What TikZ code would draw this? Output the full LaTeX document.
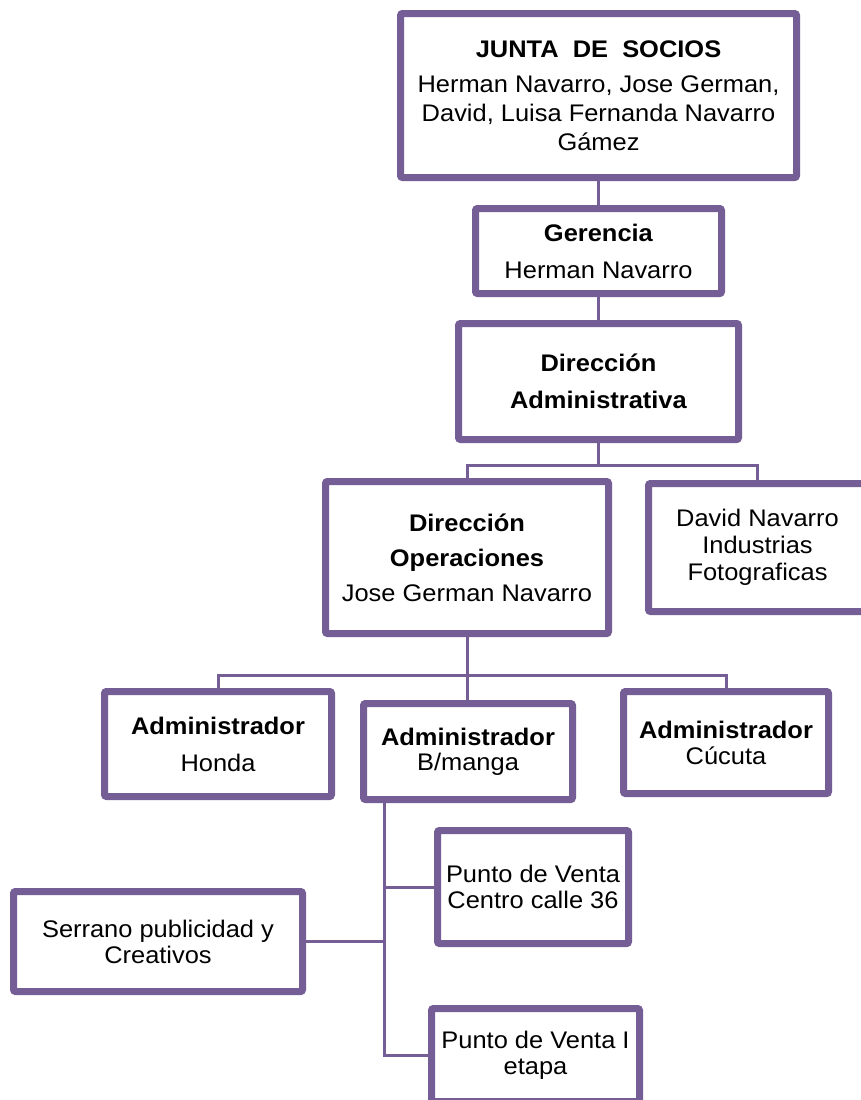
\documentclass[tikz,border=0pt]{standalone}
\usepackage{fontspec}
\setmainfont[FakeStretch=1.06]{Liberation Sans}
\usetikzlibrary{shadows}
\definecolor{pur}{RGB}{117,94,150}
\begin{document}
\begin{tikzpicture}[x=1pt,y=-1pt,
  box/.style={draw=pur, line width=7pt, fill=white, rounded corners=2pt,
    align=center, inner sep=0pt, font=\fontsize{24}{29}\selectfont,
    drop shadow={shadow xshift=2pt, shadow yshift=-3pt, fill=black, opacity=0.3}},
  link/.style={draw=pur, line width=3pt}]
\useasboundingbox[fill=white] (0,0) rectangle (860,1100);

\node[box, minimum width=396pt, minimum height=164pt] (junta) at (598.5,95.5)
  {\textbf{JUNTA\ \ DE\ \ SOCIOS}\\[6pt]Herman Navarro, Jose German,\\David, Luisa Fernanda Navarro\\Gámez};
\node[box, minimum width=246pt, minimum height=85pt] (gerencia) at (598.5,251)
  {\textbf{Gerencia}\\[8pt]Herman Navarro};
\node[box, minimum width=280pt, minimum height=116pt] (diradm) at (598.5,381.5)
  {\textbf{Dirección}\\[8pt]\textbf{Administrativa}};
\node[box, minimum width=283pt, minimum height=152pt] (dirops) at (467,557.5)
  {\textbf{Dirección}\\[6pt]\textbf{Operaciones}\\[6pt]Jose German Navarro};
\node[box, minimum width=218pt, minimum height=128pt, font=\fontsize{24}{27}\selectfont] (david) at (757.5,547.5)
  {David Navarro\\Industrias\\Fotograficas};
\node[box, minimum width=227pt, minimum height=105pt] (honda) at (218,744)
  {\textbf{Administrador}\\[8pt]Honda};
\node[box, minimum width=209pt, minimum height=96pt, font=\fontsize{24}{25}\selectfont] (bmanga) at (468,751.5)
  {\textbf{Administrador}\\B/manga};
\node[box, minimum width=205pt, minimum height=102pt, font=\fontsize{24}{26}\selectfont] (cucuta) at (726,742.5)
  {\textbf{Administrador}\\Cúcuta};
\node[box, minimum width=191pt, minimum height=113pt, font=\fontsize{24}{26}\selectfont] (centro) at (533,887)
  {Punto de Venta\\Centro calle 36};
\node[box, minimum width=289pt, minimum height=100pt, font=\fontsize{24}{26}\selectfont] (serrano) at (158,941.5)
  {Serrano publicidad y\\Creativos};
\node[box, minimum width=208pt, minimum height=93pt, font=\fontsize{24}{26}\selectfont] (etapa) at (535.5,1055)
  {Punto de Venta I\\etapa};

\draw[link] (junta.south) -- (gerencia.north);
\draw[link] (gerencia.south) -- (diradm.north);
\draw[link] (diradm.south) -- ++(0,22) coordinate (j1);
\draw[link] (dirops.north) |- (j1) -| (david.north);
\draw[link] (dirops.south) -- ++(0,38) coordinate (j2);
\draw[link] (honda.north) |- (j2) -| (cucuta.north);
\draw[link] (j2) -- (j2 |- bmanga.north);
\coordinate (bv) at ([xshift=24pt]bmanga.south west);
\draw[link] (bv) |- (etapa.west);
\draw[link] (bv |- centro.west) -- (centro.west);
\draw[link] (serrano.east) -- (serrano.east -| bv);
\end{tikzpicture}
\end{document}
